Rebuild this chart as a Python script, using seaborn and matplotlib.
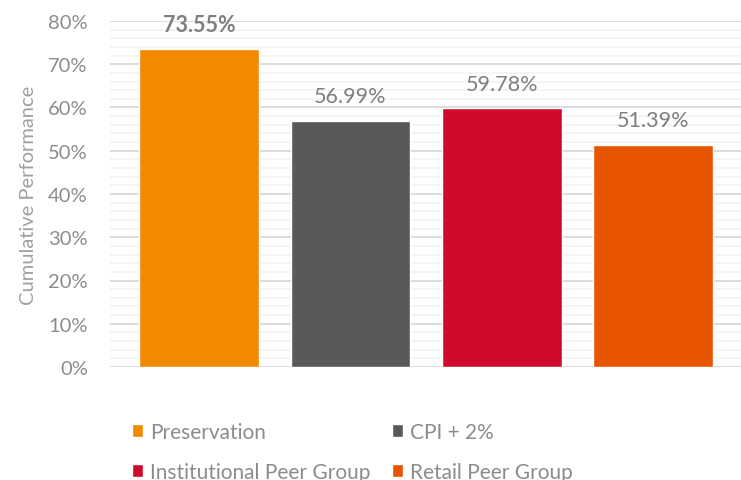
import matplotlib
matplotlib.use("Agg")
import matplotlib.pyplot as plt
import seaborn as sns
from matplotlib.ticker import MultipleLocator, PercentFormatter

categories = ["Preservation", "CPI + 2%", "Institutional Peer Group", "Retail Peer Group"]
values = [0.7355, 0.5699, 0.5978, 0.5139]
labels = ["73.55%", "56.99%", "59.78%", "51.39%"]
colors = ["#F28A00", "#58595B", "#D00A2D", "#E85500"]

sns.set_style("white")
plt.rcParams["font.family"] = ["Lato", "DejaVu Sans"]

fig = plt.figure(figsize=(7.41, 4.81), dpi=100)
ax = fig.add_axes([110 / 741, 1 - 368 / 481, 1 - 110 / 741, 346 / 481])

sns.barplot(x=categories, y=values, hue=categories, palette=colors,
            width=0.79, dodge=False, legend=False, saturation=1, ax=ax)

ax.set_ylim(0, 0.8)
ax.set_xlim(-0.588, 3.58)
ax.yaxis.set_major_locator(MultipleLocator(0.1))
ax.yaxis.set_minor_locator(MultipleLocator(0.02))
ax.yaxis.set_major_formatter(PercentFormatter(1.0, decimals=0))
ax.grid(axis="y", which="major", color="#D9D9D9", lw=1.3)
ax.grid(axis="y", which="minor", color="#F2F2F2", lw=1.2)
ax.set_axisbelow(True)
for s in ax.spines.values():
    s.set_visible(False)
ax.set_xticks([])
ax.tick_params(axis="y", which="both", length=0, labelsize=14.5, labelcolor="#8C8C8C", pad=16)
ax.set_ylabel("Cumulative Performance", fontsize=14.5, color="#A0A0A0", labelpad=8)
ax.set_xlabel("")

for i, (v, lab) in enumerate(zip(values, labels)):
    ax.annotate(lab, (i, v), xytext=(0, 17.5), textcoords="offset points",
                ha="center", va="center", fontsize=15.5, color="#7F7F7F",
                fontweight="bold" if i == 0 else "normal")

handles = ax.patches[:4]
for col, x in enumerate([132 / 741, 392 / 741]):
    fig.legend(handles[col::2], categories[col::2], loc="upper left",
               bbox_to_anchor=(x, 1 - 423 / 481), frameon=False, fontsize=15,
               labelcolor="#8C8C8C", handlelength=0.55, handleheight=0.55,
               handletextpad=0.3, labelspacing=0.95, borderpad=0, borderaxespad=0)

fig.savefig("out.png", dpi=100)
